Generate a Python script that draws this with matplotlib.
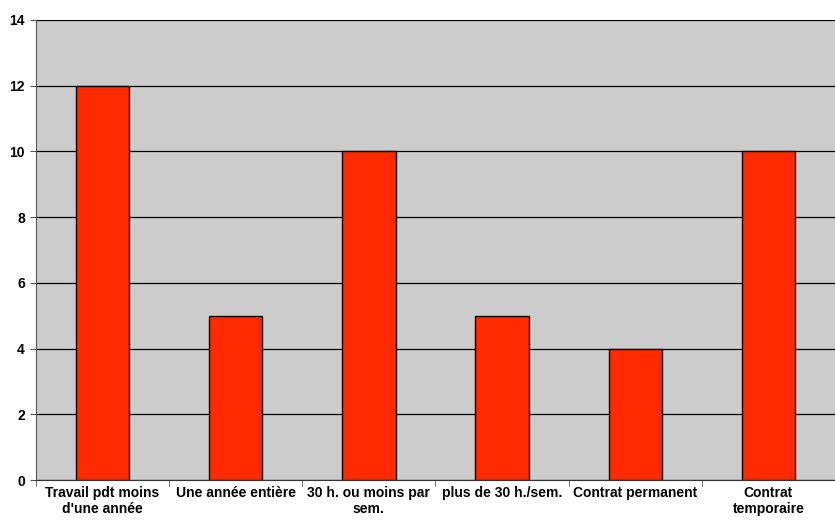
import numpy as np
import matplotlib.pyplot as plt

categories = ["Travail pdt moins\nd'une année", "Une année entière",
              "30 h. ou moins par\nsem.", "plus de 30 h./sem.",
              "Contrat permanent", "Contrat\ntemporaire"]
values = [12, 5, 10, 5, 4, 10]
y_ticks = [0, 2, 4, 6, 8, 10, 12, 14]

plt.rcParams['font.family'] = ['Liberation Sans', 'DejaVu Sans']

fig = plt.figure(figsize=(8.35, 5.23), dpi=100)
ax = fig.add_axes([0.0431, 0.0822, 0.9569, 0.8796])
ax.set_facecolor('#cccccc')

x = np.arange(len(categories))
ax.bar(x, values, width=0.4, color='#ff2a00', edgecolor='black', linewidth=1, zorder=3)

ax.set_xlim(-0.5, len(categories) - 0.5)
ax.set_ylim(0, 14)
ax.set_yticks(y_ticks)
ax.set_yticklabels([str(t) for t in y_ticks], fontsize=10, fontweight='bold')
ax.yaxis.grid(True, color='black', linewidth=0.9, zorder=1)

# category labels sit between the boundary tick marks
ax.set_xticks(x)
ax.set_xticklabels(categories, fontsize=10, fontweight='bold', linespacing=1.2)
ax.tick_params(axis='x', length=0, pad=4)
ax.set_xticks(np.arange(len(categories) + 1) - 0.5, minor=True)
ax.tick_params(axis='x', which='minor', length=4, color='#555555')
ax.tick_params(axis='y', length=4, color='#555555', pad=4)

for side in ['top', 'right']:
    ax.spines[side].set_visible(False)
ax.spines['left'].set_color('#555555')
ax.spines['bottom'].set_color('#333333')

fig.savefig('out.png', dpi=100)
